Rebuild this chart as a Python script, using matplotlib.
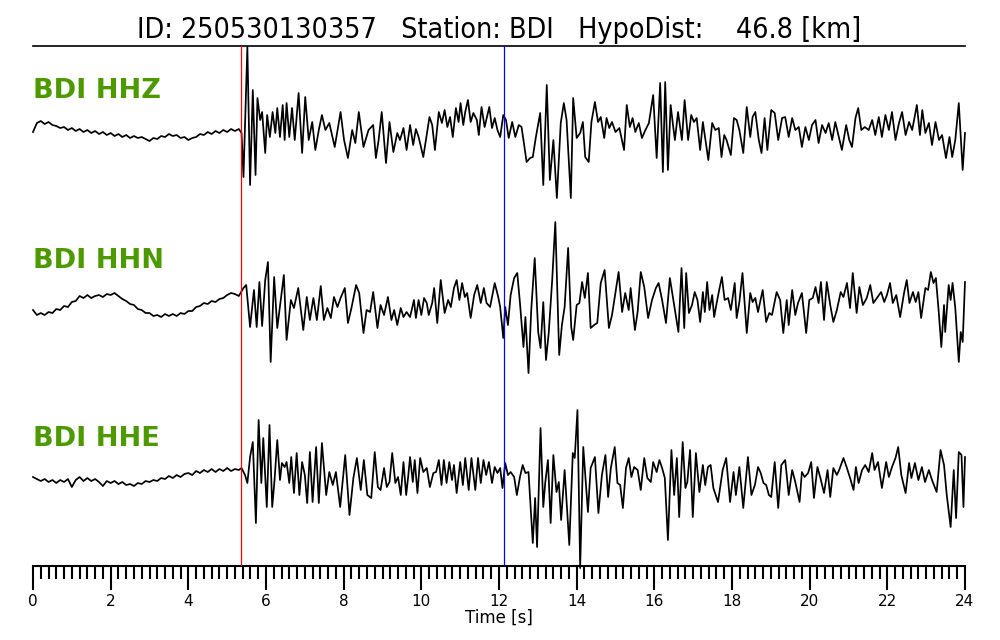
import numpy as np
import matplotlib
matplotlib.use('Agg')
import matplotlib.pyplot as plt

# event / station info
event_id = '250530130357'
station = 'BDI'
hypo_dist = 46.8
channels = ['HHZ', 'HHN', 'HHE']
t_p = 5.36     # red pick
t_s = 12.13    # blue pick
t_max = 24.0

# trace baselines (counts offset, top to bottom)
trace_offsets = [0, -170, -348]

# pre-event noise, sampled every 0.1 s from t=0
pre_dt = 0.1
hhz_pre = [-2, 7, 9, 6, 8, 5, 4, 2, 3, 0, 2, -1, 1, -2, 0, -3, -1, -4, -2, -5, -3, -6, -4, -7, -5, -8,
           -6, -8, -7, -9, -11, -8, -9, -6, -7, -4, -6, -5, -8, -7, -10, -8, -7, -4, -5, -2, -4, -1, -3,
           0, -2, 1, -1, 1]
hhn_pre = [-10, -15, -13, -15, -12, -13, -9, -10, -6, -7, -2, -1, 4, 2, 5, 2, 4, 5, 3, 6, 5, 7, 4, 1,
           -1, -4, -5, -9, -10, -13, -13, -16, -15, -17, -14, -16, -14, -16, -13, -14, -11, -11, -7, -6,
           -3, -4, -1, -2, 1, 2, 5, 7, 6, 4]
hhe_pre = [1, -1, -3, -1, -4, -2, -5, -2, -4, -1, -9, -2, 1, -3, 0, -3, -1, -4, -8, -3, -5, -3, -6, -4,
           -7, -6, -8, -5, -6, -3, -4, -2, -3, 0, -1, 2, 0, 3, 1, 4, 5, 3, 7, 5, 8, 6, 9, 6, 9, 7, 10, 7,
           9, 8]

# after the P arrival: turning points (time [s], counts)
hhz_t = [5.37, 5.42, 5.52, 5.59, 5.66, 5.73, 5.78, 5.85, 5.90, 5.98, 6.03, 6.10, 6.17, 6.24, 6.29, 6.36,
         6.43, 6.48, 6.53, 6.60, 6.67, 6.74, 6.84, 6.93, 7.01, 7.10, 7.19, 7.27, 7.36, 7.44, 7.53, 7.63,
         7.77, 7.92, 8.01, 8.11, 8.22, 8.30, 8.39, 8.51, 8.64, 8.76, 8.83, 8.90, 8.98, 9.09, 9.18, 9.28,
         9.38, 9.45, 9.54, 9.62, 9.71, 9.79, 9.86, 9.93, 10.05, 10.21, 10.28, 10.35, 10.45, 10.53, 10.60,
         10.67, 10.74, 10.81, 10.89, 10.96, 11.01, 11.08, 11.13, 11.20, 11.27, 11.34, 11.43, 11.48, 11.55,
         11.63, 11.75, 11.82, 11.89, 11.96, 12.03, 12.11, 12.18, 12.25, 12.34, 12.42, 12.51, 12.58, 12.63,
         12.71, 12.80, 12.87, 12.95, 13.06, 13.14, 13.23, 13.31, 13.40, 13.49, 13.59, 13.67, 13.74, 13.85,
         13.91, 14.00, 14.09, 14.16, 14.22, 14.31, 14.38, 14.47, 14.55, 14.62, 14.71, 14.77, 14.84, 14.91,
         15.00, 15.10, 15.22, 15.29, 15.37, 15.44, 15.51, 15.60, 15.68, 15.77, 15.86, 15.97, 16.06, 16.15,
         16.22, 16.28, 16.35, 16.42, 16.49, 16.53, 16.61, 16.71, 16.78, 16.87, 16.95, 17.02, 17.09, 17.18,
         17.25, 17.31, 17.39, 17.49, 17.57, 17.66, 17.73, 17.80, 17.86, 17.97, 18.05, 18.12, 18.19, 18.29,
         18.38, 18.47, 18.53, 18.60, 18.69, 18.76, 18.84, 18.91, 19.01, 19.10, 19.19, 19.29, 19.37, 19.46,
         19.55, 19.63, 19.72, 19.80, 19.89, 19.98, 20.06, 20.15, 20.23, 20.32, 20.41, 20.49, 20.58, 20.66,
         20.75, 20.83, 20.94, 21.02, 21.09, 21.18, 21.25, 21.33, 21.42, 21.52, 21.61, 21.69, 21.78, 21.86,
         21.95, 22.04, 22.12, 22.21, 22.30, 22.38, 22.47, 22.56, 22.64, 22.76, 22.84, 22.90, 22.98, 23.07,
         23.15, 23.24, 23.33, 23.41, 23.51, 23.60, 23.67, 23.75, 23.84, 23.94, 24.00]
hhz_a = [-3, -47, 83, -55, 40, -45, 32, 10, 18, -23, 15, -7, 18, -3, 22, -7,
         25, -10, 27, -7, 22, -10, 37, -23, 33, -10, 8, -20, 0, 15, 0, 7,
         -17, 18, -10, -28, 0, -13, 18, -17, 0, 5, -28, -10, 18, -33, 8, -22,
         -3, -10, 2, -20, 5, -15, 1, -7, -27, 13, 5, -20, 18, 7, 20,
         3, 13, -7, 22, 8, 27, 5, 18, 30, 8, 17, 10, -5, 23,
         3, 23, 2, 12, 0, -7, 15, 10, -8, 8, -7, 5, 3, -10,
         -32, -28, -27, -7, 17, -55, 45, -50, -10, -68, 7, 27, 10, -68,
         32, -8, -3, 8, -27, -32, 8, 28, 8, 13, -8, 12, 2, 8,
         -2, 2, -20, 25, 3, 12, -2, 7, -8, 0, 7, 35, -28, 47,
         -42, 48, -40, 25, 2, -10, 18, -10, 30, -10, 15, 8, 12, -20,
         8, -8, -30, 7, 0, 2, -27, -5, -10, -25, 12, 10, 0, -23,
         23, -7, 13, 18, -10, -23, 12, -20, 20, 17, -10, 12, 13, -7,
         12, 0, 3, -17, 3, -10, 5, 10, -13, 5, -3, 7, -10, 8,
         -7, -20, 5, -10, -17, 12, 22, 0, 3, 0, 10, -5, 13, -7,
         15, 0, 18, -10, 7, 18, -5, 8, 0, 25, -5, 20, -3, 7,
         -15, 8, -10, -5, -28, -7, -27, -10, 27, -40, -3]

hhn_t = [5.42, 5.49, 5.59, 5.69, 5.76, 5.83, 5.90, 5.98, 6.05, 6.12, 6.21, 6.29, 6.38, 6.46, 6.53, 6.64,
         6.72, 6.83, 6.96, 7.05, 7.13, 7.22, 7.31, 7.41, 7.49, 7.58, 7.67, 7.75, 7.84, 7.92, 8.03, 8.11,
         8.20, 8.32, 8.40, 8.51, 8.59, 8.68, 8.76, 8.87, 8.95, 9.04, 9.14, 9.23, 9.30, 9.38, 9.47, 9.54,
         9.62, 9.71, 9.81, 9.86, 9.93, 10.00, 10.07, 10.14, 10.19, 10.28, 10.33, 10.41, 10.50, 10.60,
         10.69, 10.76, 10.84, 10.91, 10.98, 11.05, 11.12, 11.18, 11.27, 11.36, 11.44, 11.53, 11.61, 11.68,
         11.77, 11.89, 11.98, 12.03, 12.11, 12.16, 12.23, 12.30, 12.39, 12.47, 12.54, 12.63, 12.68, 12.76,
         12.83, 12.92, 13.01, 13.07, 13.14, 13.21, 13.28, 13.37, 13.45, 13.55, 13.62, 13.69, 13.78, 13.86,
         13.91, 14.00, 14.07, 14.14, 14.21, 14.29, 14.36, 14.45, 14.53, 14.62, 14.72, 14.83, 14.91, 14.98,
         15.08, 15.17, 15.25, 15.34, 15.39, 15.50, 15.57, 15.65, 15.74, 15.84, 15.94, 16.04, 16.11, 16.20,
         16.30, 16.40, 16.49, 16.62, 16.70, 16.77, 16.82, 16.89, 16.97, 17.04, 17.11, 17.18, 17.25, 17.30,
         17.36, 17.42, 17.49, 17.54, 17.61, 17.68, 17.74, 17.81, 17.90, 17.97, 18.07, 18.12, 18.19, 18.27,
         18.38, 18.47, 18.53, 18.60, 18.67, 18.79, 18.88, 18.96, 19.03, 19.15, 19.24, 19.32, 19.41, 19.46,
         19.55, 19.63, 19.70, 19.80, 19.91, 19.99, 20.08, 20.15, 20.23, 20.29, 20.37, 20.44, 20.53, 20.61,
         20.70, 20.80, 20.87, 20.96, 21.04, 21.11, 21.21, 21.28, 21.37, 21.47, 21.56, 21.64, 21.73, 21.84,
         21.92, 21.99, 22.07, 22.14, 22.23, 22.33, 22.43, 22.50, 22.57, 22.66, 22.73, 22.80, 22.87, 22.98,
         23.05, 23.12, 23.19, 23.25, 23.32, 23.39, 23.46, 23.49, 23.58, 23.63, 23.68, 23.75, 23.84, 23.89,
         23.94, 24.00]
hhn_a = [12, 15, -27, 10, -27, 18, -26, 20, 38, -62, 23, -28, 0, 25, -40, 0,
         -8, 12, -30, 3, -20, 2, -20, 14, -20, -8, -18, 3, -7, 2, 12, -23,
         -8, 15, 7, -33, -10, -12, 8, -28, -5, -15, 3, -20, -10, -25, -8, -17,
         -12, -17, 0, -18, 0, -15, 2, -3, -15, -3, 12, -23, 20, -13,
         0, -7, 12, 20, 0, 17, 3, 7, -18, 5, 15, -3, 12, -3,
         -7, 17, 3, -7, -38, -7, -25, 5, 22, 27, -3, -47, -17, -73,
         -10, 42, -32, -48, -2, -60, -33, 20, 78, -55, -25, -7, 52, -27,
         -40, -5, -3, 18, 2, 27, -28, -25, -23, 17, 30, -28, -15, 3,
         28, -12, 7, -10, 12, -30, -12, 28, 13, -18, 0, 12, 17, 0,
         -23, 22, 0, -32, 32, -28, 27, -13, -5, 8, 0, -22, 8, -12,
         18, -10, 5, -17, -2, 12, 23, 0, 2, -10, 17, -18, -2, 27,
         -33, 7, -2, 2, -12, 10, -22, -13, -15, 8, 0, -33, 0, -25,
         10, -15, -3, 7, -33, 0, 2, 13, -3, 18, -20, 18, -5, -22,
         -10, 8, 3, 17, -8, 27, -13, 13, -5, 2, 15, -3, 2, 8,
         -2, 5, 17, -3, 5, -17, 7, 20, -3, 8, -2, 8, -18, 12,
         10, 28, 17, 22, -10, -47, -5, -32, 15, 0, 17, -8, -62, -32,
         -42, 18]

hhe_t = [5.37, 5.46, 5.52, 5.59, 5.66, 5.74, 5.81, 5.88, 5.93, 6.02, 6.09, 6.16, 6.22, 6.29, 6.36, 6.41,
         6.48, 6.53, 6.60, 6.65, 6.72, 6.79, 6.86, 6.93, 7.00, 7.06, 7.13, 7.20, 7.29, 7.36, 7.44, 7.55,
         7.63, 7.72, 7.80, 7.91, 8.04, 8.15, 8.25, 8.34, 8.44, 8.52, 8.61, 8.71, 8.80, 8.88, 8.95, 9.04,
         9.11, 9.18, 9.25, 9.33, 9.40, 9.47, 9.54, 9.61, 9.66, 9.71, 9.78, 9.83, 9.90, 9.97, 10.05, 10.14,
         10.22, 10.31, 10.38, 10.45, 10.52, 10.58, 10.65, 10.72, 10.79, 10.84, 10.91, 11.00, 11.07, 11.13,
         11.22, 11.29, 11.39, 11.46, 11.53, 11.60, 11.67, 11.74, 11.82, 11.89, 11.96, 12.03, 12.09, 12.16,
         12.23, 12.30, 12.39, 12.46, 12.54, 12.61, 12.68, 12.76, 12.87, 12.93, 12.98, 13.07, 13.14, 13.19,
         13.26, 13.33, 13.40, 13.48, 13.54, 13.60, 13.69, 13.81, 13.90, 13.95, 14.02, 14.09, 14.17, 14.29,
         14.36, 14.47, 14.56, 14.65, 14.74, 14.81, 14.88, 14.98, 15.05, 15.12, 15.19, 15.27, 15.34, 15.41,
         15.48, 15.57, 15.65, 15.74, 15.82, 15.91, 15.97, 16.06, 16.13, 16.20, 16.27, 16.35, 16.44, 16.51,
         16.58, 16.64, 16.73, 16.80, 16.85, 16.92, 16.99, 17.07, 17.16, 17.25, 17.31, 17.38, 17.45, 17.52,
         17.64, 17.76, 17.85, 17.95, 18.04, 18.10, 18.19, 18.29, 18.41, 18.50, 18.59, 18.67, 18.74, 18.81,
         18.88, 18.95, 19.01, 19.10, 19.19, 19.27, 19.37, 19.46, 19.55, 19.63, 19.74, 19.80, 19.87, 19.96,
         20.04, 20.11, 20.20, 20.27, 20.37, 20.46, 20.53, 20.61, 20.70, 20.76, 20.87, 20.96, 21.04, 21.13,
         21.19, 21.26, 21.35, 21.43, 21.52, 21.61, 21.67, 21.76, 21.86, 21.97, 22.04, 22.12, 22.21, 22.28,
         22.36, 22.47, 22.56, 22.62, 22.71, 22.80, 22.89, 22.97, 23.07, 23.15, 23.27, 23.37, 23.46, 23.53,
         23.63, 23.71, 23.77, 23.84, 23.91, 23.96, 24.00]
hhe_a = [10, 3, -5, 21, 36, -45, 58, -5, 40, -29, 53, -29, -2, 38, -2, 15,
         11, 16, -5, 21, -15, 25, -17, 16, 3, -25, 26, -24, 31, -25, 35, -17,
         6, -7, 6, -29, 23, -37, 0, 20, -12, 18, -17, -20, 26, -9, -12, 10,
         -9, -4, 25, -5, 1, -17, 16, -17, 1, 21, -4, 18, -15, 20, 6, 10,
         -9, 5, 6, 18, -7, 18, -5, 16, -2, 13, -15, 16, -7, 20,
         -12, 20, -12, 20, -5, 18, 3, 16, -5, 11, 5, 10, -10, 15,
         3, 6, 1, -17, 1, 13, 5, 6, -65, -20, -69, 50, -29, -5,
         18, -45, 23, -14, -4, -42, 8, -67, 25, 20, 68, -90, 31, -34,
         10, 21, -35, 3, 23, -19, 10, 31, -5, -7, -30, 10, 20, 1,
         11, 8, -12, 20, 0, -4, 16, 6, 18, 10, 0, -62, 28, -17,
         20, -39, 36, -10, -4, 28, -39, 25, -14, 13, -7, 11, 13, -10,
         -24, 8, 20, -24, 6, -17, 11, -30, 21, -17, -7, 11, 5, -5,
         -7, -17, -19, 16, -30, 13, 18, -17, 8, -4, -24, 6, 1, 5,
         16, -20, 11, 1, -15, 8, -19, 10, 3, 8, 20, 10, 0, -12,
         11, -5, 8, 13, 6, 25, 8, 16, -10, 16, 1, 11, 20, 31,
         3, -15, 15, 0, 15, -2, 11, -4, 8, -2, -14, 28, 13, -17,
         -49, 8, -40, 26, 23, -29, 21]

pre_data = [hhz_pre, hhn_pre, hhe_pre]
post_t = [hhz_t, hhn_t, hhe_t]
post_a = [hhz_a, hhn_a, hhe_a]

fig = plt.figure(figsize=(10, 6.4), dpi=100)
ax = fig.add_axes([0.033, 0.1156, 0.932, 0.8125])

for i in range(3):
    t_pre = np.arange(len(pre_data[i])) * pre_dt
    t = np.concatenate([t_pre, post_t[i]])
    a = np.concatenate([pre_data[i], post_a[i]]) + trace_offsets[i]
    ax.plot(t, a, color='black', lw=1.25, clip_on=False, zorder=2)
    ax.text(0.0, trace_offsets[i] + 39, f'{station} {channels[i]}', color='#4c9a00',
            fontsize=19.5, fontweight='bold', va='center', ha='left')

ax.axvline(t_p, color='red', lw=0.9, zorder=3)
ax.axvline(t_s, color='blue', lw=0.9, zorder=3)

ax.set_xlim(0, t_max)
ax.set_ylim(-436, 84)

ax.spines['left'].set_visible(False)
ax.spines['right'].set_visible(False)
ax.spines['top'].set_linewidth(1.2)
ax.spines['bottom'].set_linewidth(1.5)
ax.set_yticks([])
ax.set_xticks(np.arange(0, t_max + 0.1, 2))
ax.set_xticks(np.arange(0, t_max + 0.01, 0.2), minor=True)
ax.tick_params(axis='x', which='major', length=17, width=1.5, labelsize=11, pad=3)
ax.tick_params(axis='x', which='minor', length=9, width=1.5)
ax.set_xlabel('Time [s]', fontsize=12, labelpad=0)

ax.set_title(f'ID: {event_id}   Station: {station}   HypoDist:    {hypo_dist:.1f} [km]',
             fontsize=20.5, pad=6, fontstretch='condensed')

fig.savefig('out.png', dpi=100)
